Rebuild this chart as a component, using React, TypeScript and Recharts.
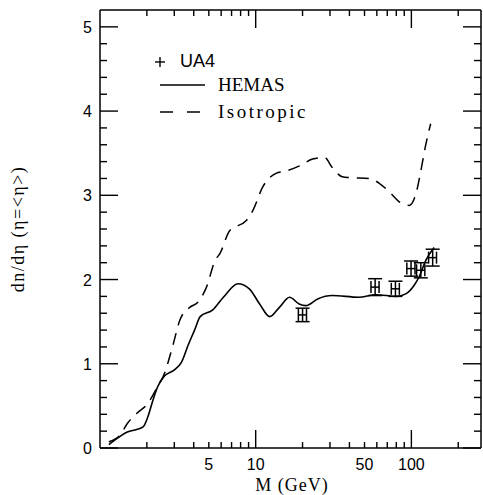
import React from 'react';
import { ComposedChart, Line, Scatter, ErrorBar, XAxis, YAxis } from 'recharts';

// HEMAS prediction (solid)
const hemasMass = [1.14, 1.3, 1.5, 1.72, 1.89, 2.03, 2.19, 2.35, 2.61, 3.02, 3.34, 3.68, 4.05, 4.4, 5.3, 6.2, 7.7, 9.1, 10.6, 12.3, 14.2, 16.5, 19, 21, 25, 31, 46, 59, 80, 92, 104, 112, 124, 140];
const hemasDensity = [0.04, 0.12, 0.19, 0.22, 0.25, 0.37, 0.57, 0.73, 0.86, 0.93, 1.02, 1.22, 1.4, 1.56, 1.64, 1.79, 1.95, 1.89, 1.71, 1.56, 1.67, 1.79, 1.71, 1.69, 1.77, 1.81, 1.79, 1.82, 1.8, 1.83, 1.93, 2.03, 2.23, 2.38];

// Isotropic model (dashed)
const isoMass = [1.14, 1.34, 1.51, 1.72, 2.03, 2.3, 2.6, 2.94, 3.26, 3.77, 4.25, 4.83, 5.5, 5.9, 6.8, 8.7, 9.6, 11.1, 13.5, 15.8, 19.1, 23.2, 27.7, 31, 36, 40, 53.7, 62.5, 74, 84, 97, 107, 115, 124, 133];
const isoDensity = [0.075, 0.15, 0.3, 0.41, 0.53, 0.7, 0.89, 1.22, 1.52, 1.67, 1.73, 1.91, 2.23, 2.31, 2.58, 2.7, 2.82, 3.1, 3.26, 3.29, 3.35, 3.43, 3.45, 3.33, 3.22, 3.21, 3.2, 3.14, 3.02, 2.92, 2.88, 3.02, 3.29, 3.61, 3.85];

// UA4 data
const ua4Mass = [20, 58.5, 79, 99.5, 115, 137];
const ua4Density = [1.58, 1.91, 1.89, 2.13, 2.11, 2.26];
const ua4MassErr = [1.2, 3.5, 4.7, 6, 7, 8];
const ua4DensityErr = [0.08, 0.1, 0.09, 0.09, 0.09, 0.1];

const xTicks = [2, 3, 4, 5, 6, 7, 8, 9, 10, 20, 30, 40, 50, 60, 70, 80, 90, 100, 200];
const xLabels = [5, 10, 50, 100];
const xMajor = [10, 100];
const yTicks = [0, 0.2, 0.4, 0.6, 0.8, 1, 1.2, 1.4, 1.6, 1.8, 2, 2.2, 2.4, 2.6, 2.8, 3, 3.2, 3.4, 3.6, 3.8, 4, 4.2, 4.4, 4.6, 4.8, 5];

const hemasData = hemasMass.map((m, i) => ({ m, v: hemasDensity[i] }));
const isoData = isoMass.map((m, i) => ({ m, v: isoDensity[i] }));
const ua4Data = ua4Mass.map((m, i) => ({ m, v: ua4Density[i], ex: ua4MassErr[i], ey: ua4DensityErr[i] }));

const sans = '"Liberation Sans", Arial, sans-serif';
const serif = '"Liberation Serif", "Times New Roman", serif';

const isInt = (v: number) => Math.abs(v - Math.round(v)) < 1e-6;

// inward ticks drawn by the tick renderers; labels only on bottom/left
const renderBottom = (p: any) => {
  const x = Number(p.x);
  const y = Number(p.y);
  const v = p.payload.value;
  const len = xMajor.includes(v) ? 18 : 6;
  return (
    <g>
      <path d={`M${x},${y}V${y - len}`} stroke="black" strokeWidth={1.4} fill="none" />
      {xLabels.includes(v) && (
        <text x={x} y={y + 22} textAnchor="middle" fontFamily={sans} fontSize={16} fill="black">
          {v}
        </text>
      )}
    </g>
  );
};

const renderTop = (p: any) => {
  const x = Number(p.x);
  const y = Number(p.y);
  const len = xMajor.includes(p.payload.value) ? 18 : 6;
  return <path d={`M${x},${y}V${y + len}`} stroke="black" strokeWidth={1.4} fill="none" />;
};

const renderLeft = (p: any) => {
  const x = Number(p.x);
  const y = Number(p.y);
  const v = p.payload.value;
  const major = isInt(v);
  return (
    <g>
      <path d={`M${x},${y}H${x + (major ? 18 : 7)}`} stroke="black" strokeWidth={1.4} fill="none" />
      {major && (
        <text x={x - 8} y={y + 6} textAnchor="end" fontFamily={sans} fontSize={16} fill="black">
          {Math.round(v)}
        </text>
      )}
    </g>
  );
};

const renderRight = (p: any) => {
  const x = Number(p.x);
  const y = Number(p.y);
  const major = isInt(p.payload.value);
  return <path d={`M${x},${y}H${x - (major ? 18 : 7)}`} stroke="black" strokeWidth={1.4} fill="none" />;
};

const axisLine = { stroke: 'black', strokeWidth: 1.5 };

export default function App() {
  return (
    <div style={{ position: 'absolute', left: 0, top: 0, width: 483, height: 495, background: '#fff' }}>
      <ComposedChart width={483} height={495} margin={{ top: 0, right: 0, bottom: 0, left: 0 }}>
        <XAxis
          xAxisId="b"
          dataKey="m"
          type="number"
          scale="log"
          domain={[1, 280]}
          allowDataOverflow
          ticks={xTicks}
          interval={0}
          height={47}
          tickSize={0}
          tickMargin={0}
          axisLine={axisLine}
          tickLine={false}
          tick={renderBottom}
        />
        <XAxis
          xAxisId="t"
          orientation="top"
          dataKey="m"
          type="number"
          scale="log"
          domain={[1, 280]}
          allowDataOverflow
          ticks={xTicks}
          interval={0}
          height={10}
          tickSize={0}
          tickMargin={0}
          axisLine={axisLine}
          tickLine={false}
          tick={renderTop}
        />
        <YAxis
          yAxisId="l"
          type="number"
          domain={[0, 5.2]}
          allowDataOverflow
          ticks={yTicks}
          interval={0}
          width={100}
          tickSize={0}
          tickMargin={0}
          axisLine={axisLine}
          tickLine={false}
          tick={renderLeft}
        />
        <YAxis
          yAxisId="r"
          orientation="right"
          type="number"
          domain={[0, 5.2]}
          allowDataOverflow
          ticks={yTicks}
          interval={0}
          width={2}
          tickSize={0}
          tickMargin={0}
          axisLine={axisLine}
          tickLine={false}
          tick={renderRight}
        />
        <Line
          xAxisId="t"
          yAxisId="r"
          data={hemasData}
          dataKey="v"
          stroke="none"
          dot={false}
          isAnimationActive={false}
        />
        <Line
          xAxisId="b"
          yAxisId="l"
          data={isoData}
          dataKey="v"
          type="monotone"
          stroke="black"
          strokeWidth={1.5}
          strokeDasharray="12 8"
          dot={false}
          isAnimationActive={false}
        />
        <Line
          xAxisId="b"
          yAxisId="l"
          data={hemasData}
          dataKey="v"
          type="monotone"
          stroke="black"
          strokeWidth={1.6}
          dot={false}
          isAnimationActive={false}
        />
        <Scatter xAxisId="b" yAxisId="l" data={ua4Data} dataKey="v" fill="none" isAnimationActive={false}>
          <ErrorBar dataKey="ey" direction="y" width={7} stroke="black" strokeWidth={1.5} isAnimationActive={false} />
          <ErrorBar dataKey="ex" direction="x" width={6} stroke="black" strokeWidth={1.5} isAnimationActive={false} />
        </Scatter>
      </ComposedChart>
      <svg width={483} height={495} style={{ position: 'absolute', left: 0, top: 0, pointerEvents: 'none' }}>
        {/* legend */}
        <line x1={155} x2={165} y1={62} y2={62} stroke="black" strokeWidth={1.4} />
        <line x1={160} x2={160} y1={57} y2={67} stroke="black" strokeWidth={1.4} />
        <text x={180} y={67} fontFamily={sans} fontSize={18} fill="black">UA4</text>
        <line x1={160} x2={205} y1={85} y2={85} stroke="black" strokeWidth={1.6} />
        <text x={218} y={91} fontFamily={serif} fontSize={19} fill="black">HEMAS</text>
        <line x1={160} x2={200} y1={112} y2={112} stroke="black" strokeWidth={1.5} strokeDasharray="13 14" />
        <text x={218} y={118} fontFamily={serif} fontSize={19} letterSpacing={2.5} fill="black">Isotropic</text>
        {/* axis titles */}
        <text x={292} y={491} textAnchor="middle" fontFamily={serif} fontSize={18} letterSpacing={1} fill="black">
          M (GeV)
        </text>
        <text
          x={20}
          y={229}
          transform="rotate(-90, 20, 229)"
          textAnchor="middle"
          dominantBaseline="middle"
          fontFamily={serif}
          fontSize={18}
          letterSpacing={1.5}
          fill="black"
        >
          dn/dη (η=&lt;η&gt;)
        </text>
      </svg>
    </div>
  );
}
